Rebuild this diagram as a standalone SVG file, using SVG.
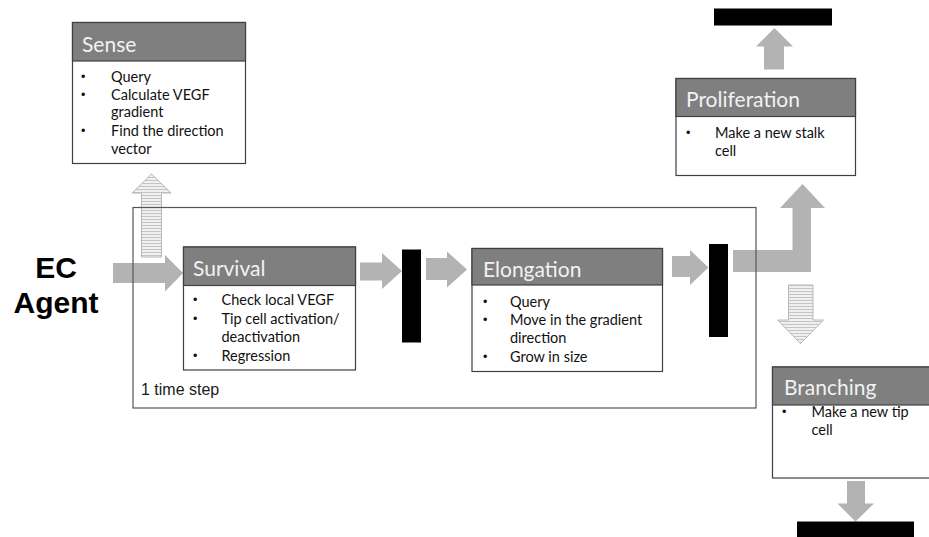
<svg xmlns="http://www.w3.org/2000/svg" width="929" height="537" viewBox="0 0 929 537">
<defs>
<pattern id="stripes" width="4" height="3" patternUnits="userSpaceOnUse">
<rect width="4" height="3" fill="#f0f0f0"/>
<rect width="4" height="1" fill="#c4c4c4"/>
</pattern>
</defs>
<style>
.hdr{fill:#7f7f7f;stroke:#404040;stroke-width:1.2}
.body{fill:#ffffff;stroke:#404040;stroke-width:1.2}
.htxt{font-family:Lato,"Liberation Sans",sans-serif;font-size:21px;fill:#f2f2f2}
.btxt{font-family:Lato,"Liberation Sans",sans-serif;font-size:14.5px;fill:#111111}
.bul{font-family:"Liberation Sans",sans-serif;font-size:12.5px;fill:#111111}
.arrow{fill:#b3b3b3;stroke:none}
.sarrow{fill:url(#stripes);stroke:#b8b8b8;stroke-width:1}
.bar{fill:#000000}
.frame{fill:none;stroke:#555555;stroke-width:1.2}
.lbl{font-family:"Liberation Sans",Arial,sans-serif;font-size:16px;fill:#1a1a1a}
.ec{font-family:"Liberation Sans",Arial,sans-serif;font-size:30px;font-weight:bold;fill:#000000}
</style>
<rect width="929" height="537" fill="#ffffff"/>

<g id="connectors">
<!-- striped up arrow to Sense -->
<polygon class="sarrow" points="141.5,257 141.5,193 132,193 151.5,174 171,193 161.5,193 161.5,257"/>
<!-- EC agent to Survival -->
<polygon class="arrow" points="113,263 165,263 165,255 183,273 165,291.5 165,283 113,283"/>
<!-- Survival to bar1 -->
<polygon class="arrow" points="360,262.5 382,262.5 382,253 402,271 382,289 382,280.5 360,280.5"/>
<!-- bar1 to Elongation -->
<polygon class="arrow" points="426,258 447,258 447,251.5 467,269.5 447,287.5 447,280 426,280"/>
<!-- Elongation to bar2 -->
<polygon class="arrow" points="672,256 690,256 690,250 708.5,267.5 690,285 690,277 672,277"/>
<!-- bent arrow to Proliferation -->
<polygon class="arrow" points="733,250 792.5,250 792.5,208 780,208 802.5,184 825,208 811,208 811,272 733,272"/>
<!-- Proliferation up to bar -->
<polygon class="arrow" points="764,69.5 764,46.5 756,46.5 774.5,28 793,46.5 784,46.5 784,69.5"/>
<!-- striped down arrow to Branching -->
<polygon class="sarrow" points="788.5,285 813,285 813,320 823.5,320 800.5,343.5 777.5,320 788.5,320"/>
<!-- Branching down to bar -->
<polygon class="arrow" points="847,481 865,481 865,503.5 874,503.5 855.5,521.5 837.5,503.5 847,503.5"/>
</g>

<g id="frame">
<rect class="frame" x="133" y="207.5" width="623" height="200.5"/>
<text class="lbl" x="141" y="395">1 time step</text>
</g>

<g id="bars">
<rect class="bar" x="402" y="249.5" width="19" height="93"/>
<rect class="bar" x="709" y="244" width="19" height="93"/>
<rect class="bar" x="714" y="8.5" width="118" height="17"/>
<rect class="bar" x="797" y="521.5" width="117" height="16"/>
</g>

<g id="ec-agent">
<text class="ec" x="56" y="278" text-anchor="middle">EC</text>
<text class="ec" x="56" y="313" text-anchor="middle">Agent</text>
</g>

<g id="sense">
<rect class="body" x="72.5" y="22.5" width="173" height="141"/>
<rect class="hdr" x="72.5" y="22.5" width="173" height="38.5"/>
<text class="htxt" x="82" y="51.5">Sense</text>
<text class="bul" x="81" y="81">•</text>
<text class="btxt" x="111" y="82">Query</text>
<text class="bul" x="81" y="99">•</text>
<text class="btxt" x="111" y="100">Calculate VEGF</text>
<text class="btxt" x="111" y="117">gradient</text>
<text class="bul" x="81" y="135">•</text>
<text class="btxt" x="111" y="136">Find the direction</text>
<text class="btxt" x="111" y="154">vector</text>
</g>

<g id="survival">
<rect class="body" x="183.5" y="247" width="172" height="123"/>
<rect class="hdr" x="183.5" y="247" width="172" height="38.5"/>
<text class="htxt" x="193" y="276">Survival</text>
<text class="bul" x="193" y="304">•</text>
<text class="btxt" x="221.5" y="305">Check local VEGF</text>
<text class="bul" x="193" y="323">•</text>
<text class="btxt" x="221.5" y="324">Tip cell activation/</text>
<text class="btxt" x="221.5" y="342">deactivation</text>
<text class="bul" x="193" y="360">•</text>
<text class="btxt" x="221.5" y="361">Regression</text>
</g>

<g id="elongation">
<rect class="body" x="472" y="248.5" width="190.5" height="123"/>
<rect class="hdr" x="472" y="248.5" width="190.5" height="36.5"/>
<text class="htxt" x="483" y="277">Elongation</text>
<text class="bul" x="483" y="306">•</text>
<text class="btxt" x="510" y="307">Query</text>
<text class="bul" x="483" y="324">•</text>
<text class="btxt" x="510" y="325">Move in the gradient</text>
<text class="btxt" x="510" y="343">direction</text>
<text class="bul" x="483" y="361">•</text>
<text class="btxt" x="510" y="362">Grow in size</text>
</g>

<g id="proliferation">
<rect class="body" x="676" y="78.5" width="179.5" height="97"/>
<rect class="hdr" x="676" y="78.5" width="179.5" height="38"/>
<text class="htxt" x="686" y="107">Proliferation</text>
<text class="bul" x="686" y="137">•</text>
<text class="btxt" x="715" y="138">Make a new stalk</text>
<text class="btxt" x="715" y="156">cell</text>
</g>

<g id="branching">
<rect class="body" x="772.5" y="367" width="170" height="111"/>
<rect class="hdr" x="772.5" y="367" width="170" height="38"/>
<text class="htxt" x="784" y="395">Branching</text>
<text class="bul" x="782" y="416">•</text>
<text class="btxt" x="811.5" y="417">Make a new tip</text>
<text class="btxt" x="811.5" y="435">cell</text>
</g>
</svg>
